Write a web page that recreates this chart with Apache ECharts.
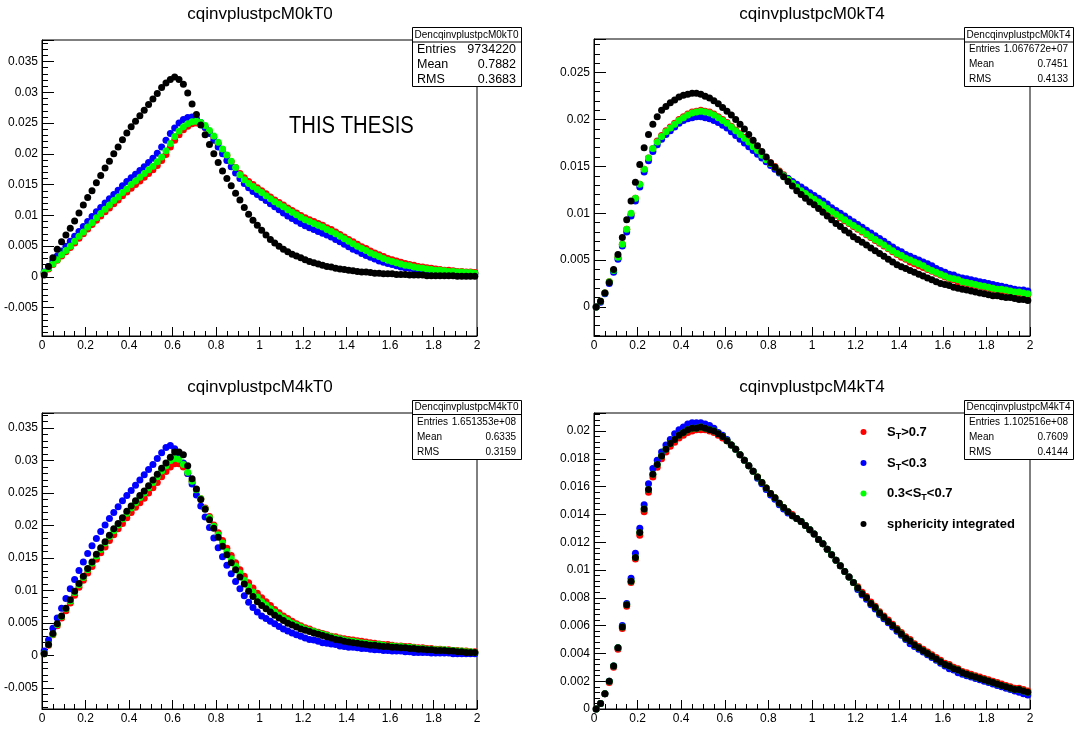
<!DOCTYPE html>
<html><head><meta charset="utf-8">
<script src="https://cdn.jsdelivr.net/npm/echarts@6/dist/echarts.min.js"></script>
<style>html,body{margin:0;padding:0;background:#fff}#c{width:1075px;height:729px}</style>
</head><body><div id="c"></div>
<script>
// ---------- DATA ----------
const xBins = [0.01,0.03,0.05,0.07,0.09,0.11,0.13,0.15,0.17,0.19,
0.21,0.23,0.25,0.27,0.29,0.31,0.33,0.35,0.37,0.39,
0.41,0.43,0.45,0.47,0.49,0.51,0.53,0.55,0.57,0.59,
0.61,0.63,0.65,0.67,0.69,0.71,0.73,0.75,0.77,0.79,
0.81,0.83,0.85,0.87,0.89,0.91,0.93,0.95,0.97,0.99,
1.01,1.03,1.05,1.07,1.09,1.11,1.13,1.15,1.17,1.19,
1.21,1.23,1.25,1.27,1.29,1.31,1.33,1.35,1.37,1.39,
1.41,1.43,1.45,1.47,1.49,1.51,1.53,1.55,1.57,1.59,
1.61,1.63,1.65,1.67,1.69,1.71,1.73,1.75,1.77,1.79,
1.81,1.83,1.85,1.87,1.89,1.91,1.93,1.95,1.97,1.99];

// M0kT0
const m0kT0_red = [0.0006,0.0013,0.0020,0.0027,0.0034,0.0041,0.0048,0.0055,0.0063,0.0070,
0.0078,0.0085,0.0092,0.0099,0.0106,0.0112,0.0119,0.0125,0.0132,0.0138,
0.0144,0.0150,0.0156,0.0162,0.0168,0.0174,0.0181,0.0189,0.0199,0.0211,
0.0222,0.0231,0.0239,0.0245,0.0249,0.0250,0.0248,0.0243,0.0236,0.0227,
0.0217,0.0207,0.0197,0.0187,0.0178,0.0168,0.0161,0.0155,0.0150,0.0145,
0.0140,0.0135,0.0130,0.0125,0.0121,0.0117,0.0112,0.0108,0.0104,0.0100,
0.0096,0.0093,0.0090,0.0087,0.0084,0.0080,0.0077,0.0073,0.0069,0.0065,
0.0061,0.0057,0.0053,0.0049,0.0046,0.0042,0.0039,0.0036,0.0033,0.0030,
0.0028,0.0026,0.0024,0.0022,0.0020,0.0019,0.0017,0.0016,0.0015,0.0014,
0.0013,0.0012,0.0011,0.0011,0.0010,0.0009,0.0009,0.0008,0.0008,0.0007];
const m0kT0_blue = [0.0008,0.0017,0.0026,0.0034,0.0042,0.0050,0.0058,0.0066,0.0074,0.0082,
0.0090,0.0098,0.0106,0.0113,0.0120,0.0127,0.0134,0.0141,0.0148,0.0155,
0.0161,0.0167,0.0173,0.0179,0.0186,0.0193,0.0201,0.0211,0.0222,0.0233,
0.0242,0.0250,0.0256,0.0259,0.0260,0.0257,0.0251,0.0243,0.0233,0.0222,
0.0211,0.0200,0.0189,0.0179,0.0169,0.0160,0.0152,0.0145,0.0139,0.0134,
0.0129,0.0124,0.0119,0.0114,0.0109,0.0104,0.0099,0.0095,0.0091,0.0087,
0.0083,0.0080,0.0077,0.0074,0.0071,0.0068,0.0065,0.0061,0.0057,0.0053,
0.0049,0.0045,0.0042,0.0038,0.0035,0.0032,0.0029,0.0026,0.0024,0.0022,
0.0020,0.0018,0.0016,0.0015,0.0014,0.0013,0.0012,0.0011,0.0010,0.0009,
0.0009,0.0008,0.0008,0.0007,0.0007,0.0006,0.0006,0.0006,0.0005,0.0005];
const m0kT0_green = [0.0007,0.0014,0.0021,0.0028,0.0036,0.0043,0.0050,0.0058,0.0066,0.0073,
0.0081,0.0088,0.0096,0.0103,0.0110,0.0117,0.0124,0.0130,0.0137,0.0143,
0.0150,0.0156,0.0162,0.0168,0.0174,0.0180,0.0187,0.0195,0.0205,0.0217,
0.0228,0.0237,0.0244,0.0249,0.0252,0.0253,0.0251,0.0246,0.0238,0.0229,
0.0219,0.0208,0.0198,0.0188,0.0178,0.0166,0.0158,0.0152,0.0147,0.0142,
0.0137,0.0132,0.0127,0.0122,0.0118,0.0114,0.0109,0.0105,0.0101,0.0097,
0.0093,0.0090,0.0087,0.0084,0.0081,0.0077,0.0074,0.0070,0.0066,0.0062,
0.0058,0.0054,0.0050,0.0046,0.0043,0.0039,0.0036,0.0033,0.0030,0.0027,
0.0025,0.0023,0.0021,0.0019,0.0018,0.0016,0.0015,0.0014,0.0013,0.0012,
0.0011,0.0011,0.0010,0.0009,0.0009,0.0008,0.0008,0.0007,0.0007,0.0006];
const m0kT0_black = [0.0003,0.0017,0.0031,0.0045,0.0057,0.0068,0.0079,0.0091,0.0104,0.0117,
0.0129,0.0140,0.0153,0.0165,0.0177,0.0188,0.0200,0.0211,0.0223,0.0234,
0.0244,0.0253,0.0262,0.0271,0.0280,0.0289,0.0298,0.0308,0.0315,0.0321,
0.0325,0.0321,0.0313,0.0299,0.0281,0.0264,0.0247,0.0231,0.0215,0.0200,
0.0186,0.0172,0.0160,0.0148,0.0136,0.0125,0.0113,0.0102,0.0092,0.0084,
0.0076,0.0068,0.0061,0.0055,0.0050,0.0045,0.0041,0.0037,0.0034,0.0031,
0.0028,0.0025,0.0023,0.0021,0.0019,0.0017,0.0016,0.0014,0.0013,0.0012,
0.0011,0.0010,0.0009,0.0008,0.0008,0.0007,0.0006,0.0006,0.0005,0.0005,
0.0005,0.0004,0.0004,0.0004,0.0003,0.0003,0.0003,0.0003,0.0002,0.0002,
0.0002,0.0002,0.0002,0.0002,0.0002,0.0001,0.0001,0.0001,0.0001,0.0001];

// M0kT4
const m0kT4_red = [0.0000,0.0006,0.0015,0.0027,0.0039,0.0053,0.0067,0.0083,0.0099,0.0116,
0.0131,0.0147,0.0159,0.0169,0.0177,0.0183,0.0188,0.0192,0.0196,0.0200,
0.0203,0.0206,0.0208,0.0209,0.0210,0.0209,0.0208,0.0206,0.0203,0.0200,
0.0197,0.0193,0.0189,0.0185,0.0181,0.0177,0.0173,0.0168,0.0163,0.0158,
0.0154,0.0150,0.0145,0.0141,0.0137,0.0133,0.0129,0.0125,0.0121,0.0118,
0.0115,0.0111,0.0108,0.0104,0.0101,0.0098,0.0095,0.0092,0.0089,0.0086,
0.0083,0.0080,0.0077,0.0074,0.0071,0.0068,0.0065,0.0062,0.0059,0.0056,
0.0053,0.0051,0.0048,0.0046,0.0044,0.0042,0.0040,0.0038,0.0036,0.0034,
0.0032,0.0030,0.0029,0.0027,0.0026,0.0025,0.0024,0.0023,0.0022,0.0021,
0.0020,0.0019,0.0018,0.0017,0.0017,0.0016,0.0015,0.0015,0.0014,0.0013];
const m0kT4_blue = [0.0000,0.0005,0.0014,0.0025,0.0037,0.0051,0.0065,0.0080,0.0097,0.0113,
0.0128,0.0144,0.0156,0.0166,0.0173,0.0179,0.0184,0.0188,0.0192,0.0196,
0.0199,0.0201,0.0202,0.0203,0.0203,0.0202,0.0201,0.0199,0.0197,0.0194,
0.0191,0.0187,0.0183,0.0179,0.0175,0.0171,0.0167,0.0163,0.0159,0.0155,
0.0151,0.0147,0.0143,0.0140,0.0137,0.0134,0.0131,0.0128,0.0125,0.0122,
0.0119,0.0116,0.0113,0.0110,0.0106,0.0103,0.0100,0.0097,0.0094,0.0091,
0.0088,0.0085,0.0082,0.0079,0.0076,0.0073,0.0070,0.0067,0.0064,0.0061,
0.0059,0.0056,0.0054,0.0052,0.0050,0.0048,0.0046,0.0044,0.0041,0.0039,
0.0037,0.0035,0.0034,0.0032,0.0031,0.0030,0.0029,0.0028,0.0027,0.0026,
0.0025,0.0024,0.0023,0.0022,0.0021,0.0020,0.0019,0.0018,0.0018,0.0017];
const m0kT4_green = [0.0000,0.0006,0.0015,0.0027,0.0039,0.0053,0.0067,0.0083,0.0100,0.0116,
0.0131,0.0147,0.0159,0.0169,0.0176,0.0182,0.0187,0.0191,0.0195,0.0199,
0.0202,0.0205,0.0207,0.0208,0.0209,0.0208,0.0207,0.0205,0.0202,0.0199,
0.0196,0.0192,0.0188,0.0184,0.0180,0.0176,0.0171,0.0167,0.0162,0.0157,
0.0153,0.0149,0.0144,0.0140,0.0136,0.0132,0.0128,0.0124,0.0121,0.0118,
0.0115,0.0112,0.0109,0.0105,0.0102,0.0099,0.0096,0.0093,0.0090,0.0087,
0.0084,0.0081,0.0078,0.0075,0.0072,0.0069,0.0066,0.0063,0.0060,0.0057,
0.0055,0.0052,0.0050,0.0048,0.0046,0.0044,0.0041,0.0039,0.0037,0.0035,
0.0033,0.0031,0.0030,0.0029,0.0027,0.0026,0.0025,0.0024,0.0023,0.0022,
0.0021,0.0020,0.0019,0.0019,0.0018,0.0017,0.0016,0.0016,0.0015,0.0014];
const m0kT4_black = [0.0000,0.0006,0.0015,0.0026,0.0040,0.0056,0.0074,0.0093,0.0113,0.0133,
0.0152,0.0170,0.0184,0.0195,0.0203,0.0210,0.0214,0.0218,0.0221,0.0224,
0.0226,0.0227,0.0228,0.0228,0.0227,0.0225,0.0223,0.0220,0.0217,0.0213,
0.0209,0.0205,0.0200,0.0195,0.0190,0.0184,0.0178,0.0172,0.0166,0.0160,
0.0154,0.0149,0.0144,0.0139,0.0134,0.0129,0.0124,0.0120,0.0116,0.0112,
0.0109,0.0105,0.0101,0.0097,0.0093,0.0089,0.0086,0.0082,0.0079,0.0075,
0.0072,0.0069,0.0066,0.0063,0.0060,0.0057,0.0054,0.0051,0.0048,0.0045,
0.0043,0.0041,0.0039,0.0037,0.0035,0.0033,0.0031,0.0029,0.0027,0.0025,
0.0024,0.0023,0.0021,0.0020,0.0019,0.0018,0.0017,0.0016,0.0015,0.0014,
0.0013,0.0012,0.0012,0.0011,0.0010,0.0010,0.0009,0.0008,0.0008,0.0007];

// M4kT0
const m4kT0_red = [0.0003,0.0016,0.0032,0.0046,0.0058,0.0069,0.0081,0.0093,0.0105,0.0116,
0.0127,0.0137,0.0148,0.0158,0.0167,0.0177,0.0186,0.0195,0.0203,0.0212,
0.0220,0.0228,0.0235,0.0242,0.0250,0.0258,0.0266,0.0275,0.0283,0.0290,
0.0295,0.0295,0.0290,0.0280,0.0268,0.0255,0.0241,0.0227,0.0214,0.0201,
0.0189,0.0177,0.0165,0.0154,0.0143,0.0132,0.0122,0.0112,0.0104,0.0096,
0.0089,0.0083,0.0077,0.0071,0.0066,0.0061,0.0057,0.0053,0.0049,0.0046,
0.0043,0.0041,0.0038,0.0036,0.0034,0.0032,0.0030,0.0029,0.0027,0.0026,
0.0025,0.0024,0.0023,0.0022,0.0021,0.0020,0.0019,0.0018,0.0017,0.0017,
0.0016,0.0015,0.0015,0.0014,0.0014,0.0013,0.0012,0.0012,0.0011,0.0011,
0.0010,0.0010,0.0009,0.0009,0.0008,0.0008,0.0007,0.0007,0.0006,0.0006];
const m4kT0_blue = [0.0007,0.0024,0.0042,0.0058,0.0073,0.0088,0.0103,0.0117,0.0131,0.0144,
0.0157,0.0169,0.0180,0.0191,0.0201,0.0211,0.0220,0.0229,0.0238,0.0246,
0.0254,0.0262,0.0270,0.0278,0.0286,0.0294,0.0303,0.0312,0.0320,0.0323,
0.0318,0.0308,0.0296,0.0280,0.0264,0.0247,0.0230,0.0213,0.0197,0.0181,
0.0166,0.0152,0.0139,0.0126,0.0114,0.0103,0.0092,0.0082,0.0074,0.0067,
0.0061,0.0057,0.0053,0.0049,0.0045,0.0041,0.0038,0.0035,0.0032,0.0030,
0.0027,0.0025,0.0024,0.0022,0.0020,0.0019,0.0018,0.0017,0.0015,0.0014,
0.0013,0.0013,0.0012,0.0011,0.0011,0.0010,0.0009,0.0009,0.0008,0.0008,
0.0007,0.0007,0.0007,0.0006,0.0006,0.0005,0.0005,0.0005,0.0005,0.0004,
0.0004,0.0004,0.0004,0.0004,0.0003,0.0003,0.0003,0.0003,0.0003,0.0003];
const m4kT0_green = [0.0003,0.0017,0.0033,0.0048,0.0060,0.0072,0.0084,0.0097,0.0109,0.0120,
0.0132,0.0142,0.0153,0.0163,0.0173,0.0183,0.0192,0.0201,0.0210,0.0219,
0.0227,0.0235,0.0243,0.0250,0.0258,0.0266,0.0275,0.0284,0.0292,0.0300,
0.0303,0.0302,0.0294,0.0282,0.0268,0.0255,0.0241,0.0226,0.0212,0.0199,
0.0186,0.0173,0.0160,0.0149,0.0138,0.0127,0.0116,0.0106,0.0098,0.0090,
0.0083,0.0078,0.0072,0.0067,0.0062,0.0058,0.0054,0.0050,0.0047,0.0044,
0.0041,0.0039,0.0037,0.0035,0.0033,0.0031,0.0029,0.0027,0.0026,0.0024,
0.0023,0.0022,0.0021,0.0020,0.0019,0.0018,0.0017,0.0017,0.0016,0.0015,
0.0015,0.0014,0.0014,0.0013,0.0013,0.0012,0.0011,0.0011,0.0010,0.0010,
0.0009,0.0009,0.0009,0.0008,0.0008,0.0007,0.0007,0.0006,0.0006,0.0005];
const m4kT0_black = [0.0003,0.0017,0.0034,0.0049,0.0061,0.0073,0.0086,0.0099,0.0111,0.0122,
0.0134,0.0144,0.0156,0.0166,0.0175,0.0185,0.0195,0.0203,0.0212,0.0222,
0.0230,0.0238,0.0246,0.0253,0.0261,0.0270,0.0279,0.0288,0.0296,0.0305,
0.0313,0.0313,0.0309,0.0292,0.0272,0.0256,0.0240,0.0225,0.0209,0.0196,
0.0182,0.0168,0.0155,0.0143,0.0132,0.0121,0.0110,0.0099,0.0091,0.0083,
0.0077,0.0072,0.0067,0.0062,0.0058,0.0054,0.0050,0.0047,0.0044,0.0041,
0.0039,0.0037,0.0035,0.0033,0.0031,0.0029,0.0027,0.0025,0.0024,0.0022,
0.0021,0.0020,0.0019,0.0018,0.0017,0.0016,0.0016,0.0015,0.0014,0.0014,
0.0013,0.0013,0.0012,0.0012,0.0011,0.0011,0.0010,0.0010,0.0009,0.0009,
0.0008,0.0008,0.0008,0.0007,0.0007,0.0006,0.0006,0.0005,0.0005,0.0005];

// M4kT4
const m4kT4_red = [0.0000,0.0004,0.0011,0.0019,0.0030,0.0043,0.0058,0.0074,0.0091,0.0108,
0.0125,0.0142,0.0156,0.0167,0.0174,0.0180,0.0185,0.0189,0.0192,0.0195,
0.0197,0.0199,0.0200,0.0201,0.0201,0.0201,0.0200,0.0199,0.0197,0.0195,
0.0193,0.0190,0.0187,0.0183,0.0179,0.0175,0.0171,0.0167,0.0163,0.0159,
0.0155,0.0152,0.0148,0.0145,0.0142,0.0140,0.0137,0.0135,0.0132,0.0129,
0.0126,0.0122,0.0119,0.0115,0.0111,0.0107,0.0103,0.0099,0.0095,0.0091,
0.0088,0.0084,0.0081,0.0077,0.0074,0.0070,0.0067,0.0064,0.0061,0.0058,
0.0055,0.0052,0.0050,0.0047,0.0045,0.0043,0.0041,0.0039,0.0037,0.0035,
0.0033,0.0032,0.0030,0.0029,0.0027,0.0026,0.0025,0.0024,0.0023,0.0022,
0.0021,0.0020,0.0019,0.0018,0.0017,0.0016,0.0015,0.0015,0.0014,0.0013];
const m4kT4_blue = [0.0000,0.0004,0.0011,0.0020,0.0031,0.0044,0.0060,0.0076,0.0094,0.0112,
0.0130,0.0147,0.0162,0.0173,0.0179,0.0185,0.0190,0.0194,0.0198,0.0201,
0.0203,0.0205,0.0206,0.0206,0.0206,0.0205,0.0204,0.0202,0.0199,0.0197,
0.0194,0.0190,0.0187,0.0183,0.0179,0.0175,0.0171,0.0166,0.0162,0.0158,
0.0154,0.0151,0.0147,0.0144,0.0141,0.0139,0.0137,0.0135,0.0132,0.0129,
0.0126,0.0122,0.0119,0.0115,0.0111,0.0107,0.0103,0.0099,0.0095,0.0091,
0.0086,0.0082,0.0079,0.0075,0.0072,0.0068,0.0065,0.0062,0.0059,0.0056,
0.0053,0.0050,0.0047,0.0045,0.0043,0.0041,0.0039,0.0037,0.0035,0.0033,
0.0031,0.0029,0.0028,0.0026,0.0025,0.0024,0.0023,0.0022,0.0021,0.0020,
0.0019,0.0018,0.0017,0.0016,0.0015,0.0014,0.0013,0.0012,0.0011,0.0010];
const m4kT4_green = [0.0000,0.0004,0.0011,0.0020,0.0031,0.0044,0.0059,0.0075,0.0092,0.0109,
0.0127,0.0144,0.0158,0.0169,0.0176,0.0182,0.0187,0.0191,0.0194,0.0197,
0.0199,0.0201,0.0202,0.0202,0.0203,0.0202,0.0201,0.0200,0.0198,0.0196,
0.0193,0.0190,0.0187,0.0183,0.0179,0.0175,0.0171,0.0167,0.0163,0.0159,
0.0155,0.0152,0.0148,0.0145,0.0142,0.0139,0.0137,0.0135,0.0132,0.0129,
0.0126,0.0122,0.0119,0.0115,0.0111,0.0107,0.0103,0.0099,0.0095,0.0091,
0.0087,0.0083,0.0080,0.0076,0.0073,0.0069,0.0066,0.0063,0.0060,0.0057,
0.0054,0.0051,0.0049,0.0046,0.0044,0.0042,0.0040,0.0038,0.0036,0.0034,
0.0032,0.0031,0.0029,0.0028,0.0026,0.0025,0.0024,0.0023,0.0022,0.0021,
0.0020,0.0019,0.0018,0.0017,0.0016,0.0015,0.0014,0.0014,0.0013,0.0012];
const m4kT4_black = [0.0000,0.0004,0.0011,0.0020,0.0031,0.0044,0.0059,0.0075,0.0092,0.0109,
0.0127,0.0144,0.0158,0.0169,0.0176,0.0182,0.0187,0.0191,0.0194,0.0197,
0.0199,0.0201,0.0202,0.0202,0.0203,0.0202,0.0201,0.0200,0.0198,0.0196,
0.0193,0.0190,0.0187,0.0183,0.0179,0.0175,0.0171,0.0167,0.0163,0.0159,
0.0155,0.0152,0.0148,0.0145,0.0142,0.0139,0.0137,0.0135,0.0132,0.0129,
0.0126,0.0122,0.0119,0.0115,0.0111,0.0107,0.0103,0.0099,0.0095,0.0091,
0.0087,0.0083,0.0080,0.0076,0.0073,0.0069,0.0066,0.0063,0.0060,0.0057,
0.0054,0.0051,0.0049,0.0046,0.0044,0.0042,0.0040,0.0038,0.0036,0.0034,
0.0032,0.0031,0.0029,0.0028,0.0026,0.0025,0.0024,0.0023,0.0022,0.0021,
0.0020,0.0019,0.0018,0.0017,0.0016,0.0015,0.0014,0.0014,0.0013,0.0012];

const panelTitles = ['cqinvplustpcM0kT0','cqinvplustpcM0kT4','cqinvplustpcM4kT0','cqinvplustpcM4kT4'];
const statNames = ['DencqinvplustpcM0kT0','DencqinvplustpcM0kT4','DencqinvplustpcM4kT0','DencqinvplustpcM4kT4'];
const statEntries = ['9734220','1.067672e+07','1.651353e+08','1.102516e+08'];
const statMean = ['0.7882','0.7451','0.6335','0.7609'];
const statRMS = ['0.3683','0.4133','0.3159','0.4144'];
const xTickLabels = ['0','0.2','0.4','0.6','0.8','1','1.2','1.4','1.6','1.8','2'];
const yLabelsM0kT0 = ['-0.005','0','0.005','0.01','0.015','0.02','0.025','0.03','0.035'];
const yLabelsM0kT4 = ['0','0.005','0.01','0.015','0.02','0.025'];
const yLabelsM4kT0 = ['-0.005','0','0.005','0.01','0.015','0.02','0.025','0.03','0.035'];
const yLabelsM4kT4 = ['0','0.002','0.004','0.006','0.008','0.01','0.012','0.014','0.016','0.018','0.02'];
const legendNames = ['S_T>0.7','S_T<0.3','0.3<S_T<0.7','sphericity integrated'];
const seriesColors = ['#ff0000','#0000ff','#00ff00','#000000'];

// ---------- LAYOUT ----------
const FONT = 'Liberation Sans, Arial, Helvetica, sans-serif';
const panels = [
  {grid:{left:42,top:40,width:435,height:296}, ymin:-0.0096, ymax:0.0385, step:0.005, labels:yLabelsM0kT0,
   data:[m0kT0_red,m0kT0_blue,m0kT0_green,m0kT0_black], titleX:260, titleY:14,
   stat:{x:412,y:27,w:109,h:59,hdr:14.5,big:true}},
  {grid:{left:594,top:39,width:436,height:297}, ymin:-0.0031, ymax:0.0286, step:0.005, labels:yLabelsM0kT4,
   data:[m0kT4_red,m0kT4_blue,m0kT4_green,m0kT4_black], titleX:812, titleY:14,
   stat:{x:964,y:27,w:109,h:59,hdr:14.5,big:false}},
  {grid:{left:42,top:413,width:435,height:296}, ymin:-0.0082, ymax:0.0373, step:0.005, labels:yLabelsM4kT0,
   data:[m4kT0_red,m4kT0_blue,m4kT0_green,m4kT0_black], titleX:260, titleY:387,
   stat:{x:412,y:400,w:109,h:59,hdr:14,big:false}},
  {grid:{left:594,top:413,width:436,height:296}, ymin:0, ymax:0.0213, step:0.002, labels:yLabelsM4kT4,
   data:[m4kT4_red,m4kT4_blue,m4kT4_green,m4kT4_black], titleX:812, titleY:387,
   stat:{x:964,y:400,w:109,h:59,hdr:14,big:false}}
];

function labelFmt(list){
  return function(v){
    for (const s of list){ if (Math.abs(parseFloat(s) - v) < 1e-7) return s; }
    return '';
  };
}

const grids=[], xAxes=[], yAxes=[], series=[], graphics=[];
panels.forEach((p,i)=>{
  grids.push(Object.assign({show:true, borderColor:'#000', borderWidth:1, backgroundColor:'#fff'}, p.grid));
  xAxes.push({type:'value', gridIndex:i, min:0, max:2, interval:0.2,
    axisLine:{show:true, onZero:false, lineStyle:{color:'#000',width:1}},
    axisTick:{show:true, inside:true, length:9, lineStyle:{color:'#000',width:1}},
    minorTick:{show:true, splitNumber:4, length:5, lineStyle:{color:'#000',width:1}},
    axisLabel:{color:'#000', fontSize:12, fontFamily:FONT, margin:4, formatter:labelFmt(xTickLabels)},
    splitLine:{show:false}});
  yAxes.push({type:'value', gridIndex:i, min:p.ymin, max:p.ymax, minInterval:p.step, maxInterval:p.step, splitNumber:10,
    axisLine:{show:true, onZero:false, lineStyle:{color:'#000',width:1}},
    axisTick:{show:true, inside:true, length:12, lineStyle:{color:'#000',width:1}},
    minorTick:{show:true, splitNumber:5, length:6, lineStyle:{color:'#000',width:1}},
    axisLabel:{color:'#000', fontSize:12, fontFamily:FONT, margin:4, formatter:labelFmt(p.labels)},
    splitLine:{show:false}});
  p.data.forEach((vals,j)=>{
    series.push({type:'scatter', xAxisIndex:i, yAxisIndex:i, symbol:'circle', symbolSize:7,
      itemStyle:{color:seriesColors[j], opacity:1}, silent:true, z:2+j,
      data: xBins.map((x,k)=>[x, vals[k]])});
  });
  graphics.push({type:'text', x:p.titleX, y:p.titleY, z:10,
    style:{text:panelTitles[i], fill:'#000', fontSize:17, fontFamily:FONT,
      textAlign:'center', textVerticalAlign:'middle', align:'center', verticalAlign:'middle'}});
  const s=p.stat;
  graphics.push({type:'rect', z:20, shape:{x:s.x+0.5, y:s.y+0.5, width:s.w, height:s.h},
    style:{fill:'#fff', stroke:'#000', lineWidth:1}});
  graphics.push({type:'line', z:21, shape:{x1:s.x+0.5, y1:s.y+s.hdr+0.5, x2:s.x+s.w+0.5, y2:s.y+s.hdr+0.5},
    style:{stroke:'#000', lineWidth:1}});
  graphics.push({type:'text', z:22, x:s.x+s.w/2, y:s.y+s.hdr/2+0.5,
    style:{text:statNames[i], fill:'#000', fontSize:10, fontFamily:FONT,
      textAlign:'center', textVerticalAlign:'middle', align:'center', verticalAlign:'middle'}});
  const rowH=(s.h-s.hdr)/3, fs=s.big?12.5:10;
  const names=['Entries','Mean','RMS'], vals=[statEntries[i],statMean[i],statRMS[i]];
  for(let r=0;r<3;r++){
    const cy=s.y+s.hdr+rowH*(r+0.5)+0.5;
    graphics.push({type:'text', z:22, x:s.x+5, y:cy,
      style:{text:names[r], fill:'#000', fontSize:fs, fontFamily:FONT,
        textAlign:'left', textVerticalAlign:'middle', align:'left', verticalAlign:'middle'}});
    graphics.push({type:'text', z:22, x:s.x+s.w-5, y:cy,
      style:{text:vals[r], fill:'#000', fontSize:fs, fontFamily:FONT,
        textAlign:'right', textVerticalAlign:'middle', align:'right', verticalAlign:'middle'}});
  }
});

graphics.push({type:'text', z:10, x:289, y:127, scaleX:0.88,
  style:{text:'THIS THESIS', fill:'#000', fontSize:23, fontFamily:FONT,
    textAlign:'left', textVerticalAlign:'middle', align:'left', verticalAlign:'middle'}});

const legRows=[432,463,493.5,524];
const richTexts=['{m|S}{s|T}{m|>0.7}','{m|S}{s|T}{m|<0.3}','{m|0.3<S}{s|T}{m|<0.7}','{m|sphericity integrated}'];
legRows.forEach((ry,r)=>{
  graphics.push({type:'circle', z:10, shape:{cx:863.5, cy:ry, r:3}, style:{fill:seriesColors[r]}});
  graphics.push({type:'text', z:10, x:887, y:ry,
    style:{text:richTexts[r], fill:'#000', textAlign:'left', textVerticalAlign:'middle', align:'left', verticalAlign:'middle',
      rich:{
        m:{fontSize:13, fontWeight:'bold', fontFamily:FONT, fill:'#000', color:'#000', lineHeight:18},
        s:{fontSize:9, fontWeight:'bold', fontFamily:FONT, fill:'#000', color:'#000', lineHeight:10, verticalAlign:'bottom'}
      }}});
});

const chart = echarts.init(document.getElementById('c'), null, {renderer:'canvas'});
chart.setOption({
  animation:false, backgroundColor:'#fff',
  grid:grids, xAxis:xAxes, yAxis:yAxes, series:series, graphic:{elements:graphics}
});
</script>
</body></html>
